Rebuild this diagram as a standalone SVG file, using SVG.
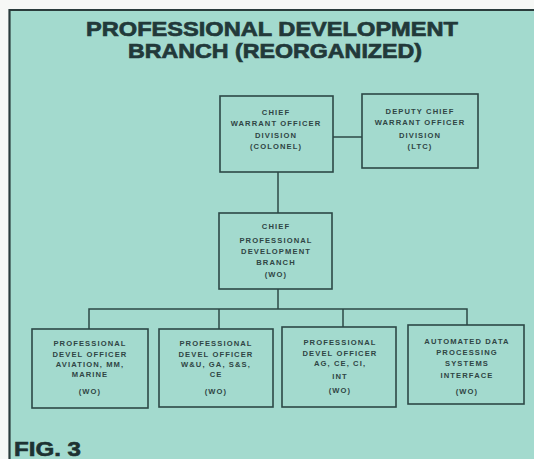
<svg xmlns="http://www.w3.org/2000/svg" width="534" height="459" viewBox="0 0 534 459">
<style>
.bx{fill:none;stroke:#2c4846;stroke-width:1.6}
.ln{fill:none;stroke:#2c4846;stroke-width:1.5}
.t{font-family:"Liberation Sans",Arial,sans-serif;font-weight:bold;font-size:7.6px;fill:#2f4544;text-anchor:middle;letter-spacing:1.1px}
.title{font-family:"Liberation Sans",Arial,sans-serif;font-weight:bold;font-size:21px;fill:#22393a;stroke:#22393a;stroke-width:0.7;text-anchor:middle}
.fig{font-family:"Liberation Sans",Arial,sans-serif;font-weight:bold;font-size:20px;fill:#1d3232;stroke:#1d3232;stroke-width:0.6}
</style>
<rect x="0" y="0" width="534" height="459" fill="#f6f8f6"/>
<rect x="9" y="10" width="525" height="449" fill="#a3dace"/>
<path d="M9.5 459 V10 H534" fill="none" stroke="#2a3c3c" stroke-width="2.2"/>
<text class="title" x="272" y="36" textLength="372" lengthAdjust="spacingAndGlyphs">PROFESSIONAL DEVELOPMENT</text>
<text class="title" x="275" y="58" textLength="294" lengthAdjust="spacingAndGlyphs">BRANCH (REORGANIZED)</text>
<g id="connectors">
<path class="ln" d="M333 137 H362"/>
<path class="ln" d="M278 172 V213"/>
<path class="ln" d="M278 289 V309"/>
<path class="ln" d="M89 329 V309 H467 V325"/>
<path class="ln" d="M219 309 V329"/>
<path class="ln" d="M343 309 V327"/>
</g>
<g id="chief-wo-division">
<rect class="bx" x="220" y="96" width="113" height="76"/>
<text class="t" x="276" y="115">CHIEF</text>
<text class="t" x="276" y="126">WARRANT OFFICER</text>
<text class="t" x="276" y="138">DIVISION</text>
<text class="t" x="276" y="149">(COLONEL)</text>
</g>
<g id="deputy-chief">
<rect class="bx" x="362" y="94" width="116" height="74"/>
<text class="t" x="420" y="114">DEPUTY CHIEF</text>
<text class="t" x="420" y="125">WARRANT OFFICER</text>
<text class="t" x="420" y="138">DIVISION</text>
<text class="t" x="420" y="149">(LTC)</text>
</g>
<g id="chief-pd-branch">
<rect class="bx" x="219" y="213" width="113" height="76"/>
<text class="t" x="276" y="229">CHIEF</text>
<text class="t" x="276" y="243">PROFESSIONAL</text>
<text class="t" x="276" y="254">DEVELOPMENT</text>
<text class="t" x="276" y="265">BRANCH</text>
<text class="t" x="276" y="277">(WO)</text>
</g>
<g id="pdo-aviation">
<rect class="bx" x="32" y="329" width="116" height="79"/>
<text class="t" x="90" y="346">PROFESSIONAL</text>
<text class="t" x="90" y="357">DEVEL OFFICER</text>
<text class="t" x="90" y="367">AVIATION, MM,</text>
<text class="t" x="90" y="377">MARINE</text>
<text class="t" x="90" y="394">(WO)</text>
</g>
<g id="pdo-wu">
<rect class="bx" x="159" y="329" width="114" height="78"/>
<text class="t" x="216" y="346">PROFESSIONAL</text>
<text class="t" x="216" y="357">DEVEL OFFICER</text>
<text class="t" x="216" y="367">W&amp;U, GA, S&amp;S,</text>
<text class="t" x="216" y="377">CE</text>
<text class="t" x="216" y="394">(WO)</text>
</g>
<g id="pdo-ag">
<rect class="bx" x="282" y="327" width="114" height="80"/>
<text class="t" x="340" y="345">PROFESSIONAL</text>
<text class="t" x="340" y="356">DEVEL OFFICER</text>
<text class="t" x="340" y="366">AG, CE, CI,</text>
<text class="t" x="340" y="379">INT</text>
<text class="t" x="340" y="393">(WO)</text>
</g>
<g id="adp-interface">
<rect class="bx" x="408" y="325" width="116" height="79"/>
<text class="t" x="467" y="344">AUTOMATED DATA</text>
<text class="t" x="467" y="355">PROCESSING</text>
<text class="t" x="467" y="366">SYSTEMS</text>
<text class="t" x="467" y="378">INTERFACE</text>
<text class="t" x="467" y="394">(WO)</text>
</g>
<text class="fig" x="14" y="456" textLength="67" lengthAdjust="spacingAndGlyphs">FIG. 3</text>
</svg>
